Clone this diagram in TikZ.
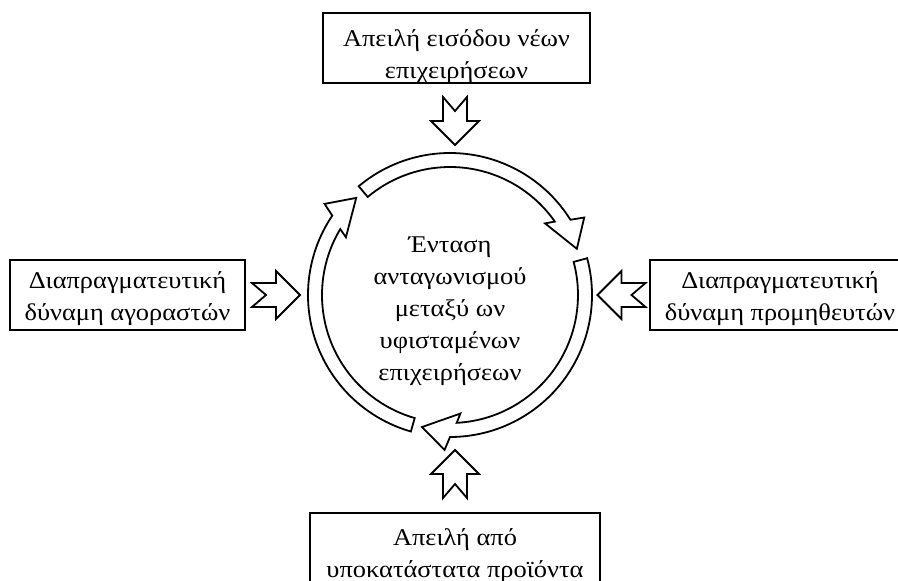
\documentclass[tikz,border=0pt]{standalone}
\usepackage{fontspec}
\setmainfont{Liberation Serif}[FakeStretch=1.1]
\begin{document}
\begin{tikzpicture}[x=1pt,y=1pt,
  box/.style={draw=black, line width=1.8pt, fill=white, inner sep=0pt, minimum height=70},
  txt/.style={align=center, font=\fontsize{24}{32}\selectfont, inner sep=0pt},
  blk/.style={draw=black, line width=1.8pt, fill=white, line join=miter},
  ring/.style={draw=black, line width=1.8pt, fill=white, line join=miter},
  blockarrow/.pic={\draw[blk] (-12,24) -- (0,10) -- (12,24) -- (12,0) -- (24,0) -- (0,-24) -- (-24,0) -- (-12,0) -- cycle;}]
\useasboundingbox (0,0) rectangle (898,-581);
\fill[white] (0,0) rectangle (898,-581);

% outer boxes
\node[box, minimum width=267] (topbox) at (456.5,-48) {};
\node[txt] (toptxt) at (456.5,-56.5) {Απειλή εισόδου νέων\\επιχειρήσεων};

\node[box, minimum width=235] (leftbox) at (127.5,-295) {};
\node[txt] (lefttxt) at (127.5,-299) {Διαπραγματευτική\\δύναμη αγοραστών};

\node[box, minimum width=262] (rightbox) at (781,-295) {};
\node[txt] (righttxt) at (780,-299) {Διαπραγματευτική\\δύναμη προμηθευτών};

\node[box, minimum width=290] (botbox) at (455,-548) {};
\node[txt] (bottxt) at (455,-556) {Απειλή από\\υποκατάστατα προϊόντα};

% block arrows
\pic (atop) at (455,-121) {blockarrow};
\pic[rotate=180] (abot) at (455,-474) {blockarrow};
\pic[rotate=90] (aleft) at (276,-295) {blockarrow};
\pic[rotate=-90] (aright) at (621.5,-295) {blockarrow};

% circular arrows
\newcommand\ringarr[2]{%
  \draw[ring] (#1:142) arc[start angle=#1, end angle={#2+12}, radius=142]
    -- ({#2+10}:155) -- (#2:135) -- ({#2+17}:119) -- ({#2+15}:128)
    arc[start angle={#2+15}, end angle=#1, radius=128] -- cycle;}
\begin{scope}[shift={(450,-295)}]
  \ringarr{130}{20}
  \ringarr{15}{-102}
  \ringarr{-106}{-226}
\end{scope}

\node[txt] (center) at (450,-311) {Ένταση\\ανταγωνισμού\\μεταξύ ων\\υφισταμένων\\επιχειρήσεων};
\end{tikzpicture}
\end{document}
